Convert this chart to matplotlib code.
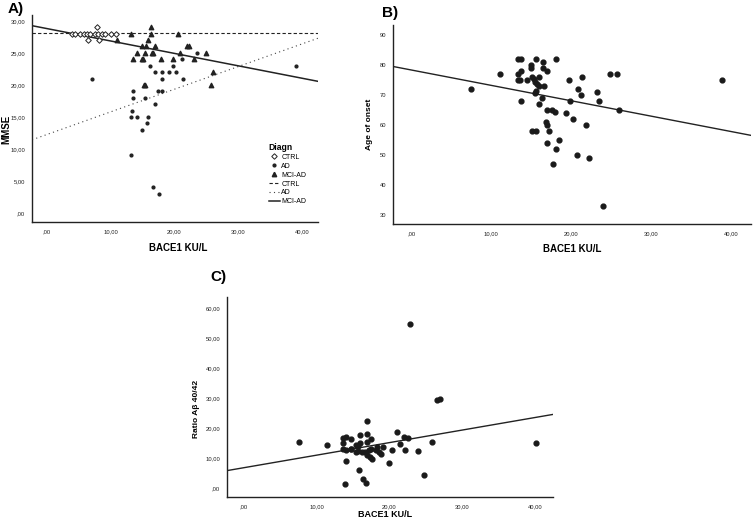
import matplotlib
matplotlib.use("Agg")
import matplotlib.pyplot as plt
from matplotlib.ticker import FuncFormatter, MultipleLocator
from matplotlib.lines import Line2D

plt.rcParams['font.family'] = ['Liberation Sans', 'DejaVu Sans']

# ---- Panel A: MMSE vs BACE1 by diagnosis ----
ctrl_x = [3.9, 4.4, 5.2, 5.8, 6.3, 6.8, 7.6, 8.1, 8.7, 9.2, 10.0, 10.8, 7.8, 6.5, 8.2]
ctrl_y = [28, 28, 28, 28, 28, 28, 28, 28, 28, 28, 28, 28, 29, 27, 27]

ad_x = [7.1, 16.2, 16.9, 18.1, 19.2, 20.3, 18.1, 19.8, 21.2, 21.4, 13.5, 13.5,
        15.4, 17.0, 17.5, 18.1, 13.3, 13.2, 14.2, 15.8, 15.7, 14.9, 13.2, 16.7,
        17.6, 23.5, 39.1]
ad_y = [21, 23, 22, 22, 22, 22, 21, 23, 24, 21, 19, 18,
        18, 17, 19, 19, 16, 15, 15, 15, 14, 13, 9, 4,
        3, 25, 23]

mci_x = [13.2, 16.3, 16.3, 20.6, 15.9, 11.0, 14.9, 15.6, 16.9, 14.2, 15.4, 16.5,
         16.7, 13.5, 14.9, 15.1, 17.9, 19.7, 20.8, 21.9, 22.3, 15.2, 15.4, 24.9,
         23.1, 26.0, 25.8]
mci_y = [28, 29, 28, 28, 27, 27, 26, 26, 26, 25, 25, 25,
         25, 24, 24, 24, 24, 24, 25, 26, 26, 20, 20, 25,
         24, 22, 20]

# fit lines (intercept, slope) per group
fit_ctrl = (28.1, 0.0)
fit_ad = (12.25, 0.354)
fit_mci = (28.8, -0.194)

# ---- Panel B: age of onset vs BACE1 ----
onset_x = [7.4, 11.1, 13.3, 13.7, 15.6, 18.1, 14.9, 14.9, 16.4, 16.4, 13.7, 13.3,
           17.0, 13.3, 13.6, 14.4, 15.1, 15.3, 15.5, 15.7, 15.9, 16.0, 16.6, 15.6,
           15.5, 16.3, 13.7, 16.0, 17.0, 17.6, 17.9, 19.3, 19.7, 16.8, 17.0, 15.1,
           15.6, 17.2, 16.9, 18.4, 18.1, 17.7, 21.4, 24.9, 25.7, 38.8, 20.9, 21.2,
           23.2, 19.8, 23.5, 26.0, 20.2, 21.8, 20.7, 22.2, 24.0]
onset_y = [72, 77, 82, 82, 82, 82, 80, 79, 81, 79, 78, 77,
           78, 75, 75, 75, 76, 75.3, 74.4, 73.7, 73.1, 76, 73, 71.4,
           70.8, 69, 68, 67, 65, 65, 64.4, 64, 75, 61, 60, 58,
           58, 58, 54, 55, 52, 47, 76, 77, 77, 75, 72, 70,
           71, 68, 68, 65, 62, 60, 50, 49, 33]
fit_onset = (78.3, -0.512)

# ---- Panel C: Abeta 40/42 ratio vs BACE1 ----
ratio_x = [7.6, 11.5, 13.7, 14.1, 13.7, 14.8, 13.7, 14.1, 14.8, 14.1, 13.9, 14.8,
           15.4, 15.7, 16.0, 16.0, 15.4, 15.7, 16.2, 16.6, 16.9, 16.9, 17.0, 17.5,
           17.2, 17.5, 17.0, 17.4, 17.6, 18.3, 18.2, 18.6, 18.8, 19.1, 19.9, 20.4,
           21.0, 21.4, 22.0, 22.5, 22.2, 24.0, 24.8, 25.8, 26.6, 26.9, 40.1, 15.8,
           16.4, 16.8, 22.9]
ratio_y = [15.3, 14.2, 16.7, 16.9, 14.9, 16.2, 13.1, 12.7, 13.1, 8.9, 1.4, 13.0,
           14.3, 14.1, 17.7, 14.9, 12.1, 12.3, 12.1, 11.9, 22.2, 17.9, 15.4, 16.3,
           12.7, 12.9, 11.0, 10.4, 9.7, 13.8, 12.6, 12.0, 11.3, 13.8, 8.2, 12.8,
           18.7, 14.7, 17.1, 16.8, 12.8, 12.4, 4.3, 15.4, 29.3, 29.8, 14.9, 6.0,
           3.0, 1.7, 54.7]
fit_ratio = (6.76, 0.418)

X_LIM = (-2.3, 42.5)


def comma_fmt(v, pos):
    s = f"{v:.2f}".replace('.', ',')
    if s.startswith('0,'):
        s = s[1:]
    return s


def style_axis(ax, ylim, ystep, yfmt):
    ax.set_xlim(*X_LIM)
    ax.set_ylim(*ylim)
    for side in ('top', 'right'):
        ax.spines[side].set_visible(False)
    for side in ('left', 'bottom'):
        ax.spines[side].set_color('#222222')
        ax.spines[side].set_linewidth(1.0)
    ax.xaxis.set_major_locator(MultipleLocator(10))
    ax.yaxis.set_major_locator(MultipleLocator(ystep))
    ax.xaxis.set_major_formatter(FuncFormatter(comma_fmt))
    ax.yaxis.set_major_formatter(yfmt)
    ax.tick_params(length=0, labelsize=4.2, pad=5, colors='#222222')
    ax.set_xlabel("BACE1 KU/L", fontsize=7, fontweight='bold')


def fit_line(ax, fit, **kw):
    b, m = fit
    ax.plot(list(X_LIM), [b + m * X_LIM[0], b + m * X_LIM[1]], **kw)


fig = plt.figure(figsize=(7.53, 5.2), dpi=100)

# Panel A
axA = fig.add_axes([0.0425, 0.573, 0.380, 0.398])
style_axis(axA, (-1.4, 30.9), 5, FuncFormatter(comma_fmt))
axA.scatter(ctrl_x, ctrl_y, marker='D', s=8, facecolors='white', edgecolors='#222222', linewidths=0.7, zorder=3)
axA.scatter(ad_x, ad_y, marker='o', s=4, color='#222222', zorder=3)
axA.scatter(mci_x, mci_y, marker='^', s=10, color='#222222', zorder=3)
fit_line(axA, fit_ctrl, color='#222222', lw=0.8, ls=(0, (3, 2)))
fit_line(axA, fit_ad, color='#444444', lw=0.8, ls=(0, (1, 3)))
fit_line(axA, fit_mci, color='#222222', lw=1.1)
axA.set_ylabel("MMSE", fontsize=7, fontweight='bold')
axA.xaxis.set_label_coords(0.51, -0.10)
axA.yaxis.set_label_coords(-0.072, 0.45)

handles = [
    Line2D([], [], ls='none', marker='D', ms=2.8, mfc='white', mec='#222222', mew=0.7),
    Line2D([], [], ls='none', marker='o', ms=2.0, color='#222222'),
    Line2D([], [], ls='none', marker='^', ms=3.2, color='#222222'),
    Line2D([], [], color='#222222', lw=0.8, ls=(0, (3, 2))),
    Line2D([], [], color='#444444', lw=0.8, ls=(0, (1, 3))),
    Line2D([], [], color='#222222', lw=1.1),
]
labels = ['CTRL', 'AD', 'MCI-AD', 'CTRL', 'AD', 'MCI-AD']
leg = axA.legend(handles, labels, title='Diagn', frameon=False, fontsize=5,
                 title_fontsize=6.2, loc='upper left', bbox_to_anchor=(0.815, 0.40),
                 handlelength=1.6, handletextpad=0.2, labelspacing=0.28, borderpad=0)
leg.get_title().set_fontweight('bold')
leg._legend_box.align = 'left'

# Panel B
axB = fig.add_axes([0.522, 0.569, 0.4755, 0.383])
style_axis(axB, (27, 93.3), 10, FuncFormatter(lambda v, p: f"{v:.0f}"))
axB.scatter(onset_x, onset_y, marker='o', s=12, color='#1a1a1a', zorder=3)
fit_line(axB, fit_onset, color='#222222', lw=1.0)
axB.set_ylabel("Age of onset", fontsize=6, fontweight='bold')
axB.xaxis.set_label_coords(0.5, -0.10)
axB.yaxis.set_label_coords(-0.056, 0.50)

# Panel C
axC = fig.add_axes([0.3015, 0.0442, 0.433, 0.385])
style_axis(axC, (-3, 63.7), 10, FuncFormatter(comma_fmt))
axC.scatter(ratio_x, ratio_y, marker='o', s=12, color='#1a1a1a', zorder=3)
fit_line(axC, fit_ratio, color='#222222', lw=1.0)
axC.set_ylabel("Ratio A\u03b2 40/42", fontsize=6, fontweight='bold')
axC.xaxis.label.set_fontsize(6.5)
axC.xaxis.set_label_coords(0.485, -0.065)
axC.yaxis.set_label_coords(-0.083, 0.44)

# panel letters
fig.text(0.010, 0.982, "A)", fontsize=11, fontweight='bold', va='center')
fig.text(0.507, 0.975, "B)", fontsize=11, fontweight='bold', va='center')
fig.text(0.280, 0.467, "C)", fontsize=11, fontweight='bold', va='center')

fig.savefig("out.png", dpi=100)
